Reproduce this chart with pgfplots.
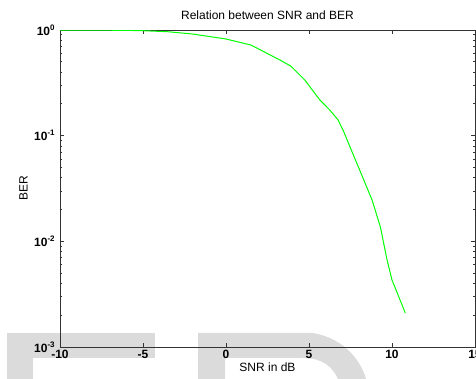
\documentclass[border=0pt]{standalone}
\usepackage{pgfplots}
\pgfplotsset{compat=1.18}
\usepackage{fontspec}
\setmainfont{Liberation Sans}
\begin{document}
\begin{tikzpicture}
\begin{scope}[x=0.75pt,y=-0.75pt,yshift=284.25pt]
\fill[gray!28] (7,333) rectangle (155,358);
\fill[gray!28] (7,333) rectangle (33,379);
\fill[gray!28] (198,333) -- (313,333) .. controls (342,338) and (360,358) .. (366,379) -- (338,379) .. controls (332,366) and (322,358) .. (303,358) -- (225,358) -- (225,379) -- (198,379) -- cycle;
\end{scope}
\begin{axis}[
  at={(45pt,24pt)}, anchor=south west,
  scale only axis, width=311.25pt, height=237.75pt,
  xmin=-10, xmax=15, ymin=1e-3, ymax=1,
  ymode=log, log basis y=10,
  xtick={-10,-5,0,5,10,15},
  xticklabels={-10,-5,0,5,10,15},
  ytick={1e-3,1e-2,1e-1,1},
  minor ytick={2e-3,3e-3,4e-3,5e-3,6e-3,7e-3,8e-3,9e-3,
               2e-2,3e-2,4e-2,5e-2,6e-2,7e-2,8e-2,9e-2,
               2e-1,3e-1,4e-1,5e-1,6e-1,7e-1,8e-1,9e-1},
  yticklabels={10\textsuperscript{-3},10\textsuperscript{-2},10\textsuperscript{-1},10\textsuperscript{0}},
  tick align=inside,
  major tick length=3pt, minor tick length=1.8pt,
  axis line style={black!80, line width=0.6pt},
  every tick/.style={black!80, line width=0.6pt},
  tick label style={font=\fontsize{9}{10}\selectfont\bfseries},
  title={Relation between SNR and BER},
  title style={font=\fontsize{9}{10}\selectfont, yshift=-2pt},
  xlabel={SNR in dB},
  ylabel={BER},
  label style={font=\fontsize{9}{10}\selectfont},
  xlabel style={yshift=4pt},
  ylabel style={yshift=-2pt},
  xticklabel style={yshift=1pt},
  clip=true,
]
\addplot[color={rgb,255:red,0;green,255;blue,0}, line width=0.75pt] coordinates {
(-10,0.999) (-8,0.998) (-6,0.992) (-5,0.985) (-3.5,0.963) (-2,0.916)
(0,0.822) (1.5,0.721) (3.25,0.52) (3.9,0.456) (4.75,0.336) (5.65,0.218)
(6.25,0.175) (6.75,0.141) (7.05,0.113) (7.6,0.070) (8.35,0.0365)
(8.8,0.0246) (9.3,0.0137) (9.7,0.0067) (10.0,0.0043) (10.3,0.0033) (10.8,0.0021)
};
\end{axis}
\pgfresetboundingbox
\useasboundingbox (0,0) rectangle (357pt,284.25pt);
\end{tikzpicture}
\end{document}
